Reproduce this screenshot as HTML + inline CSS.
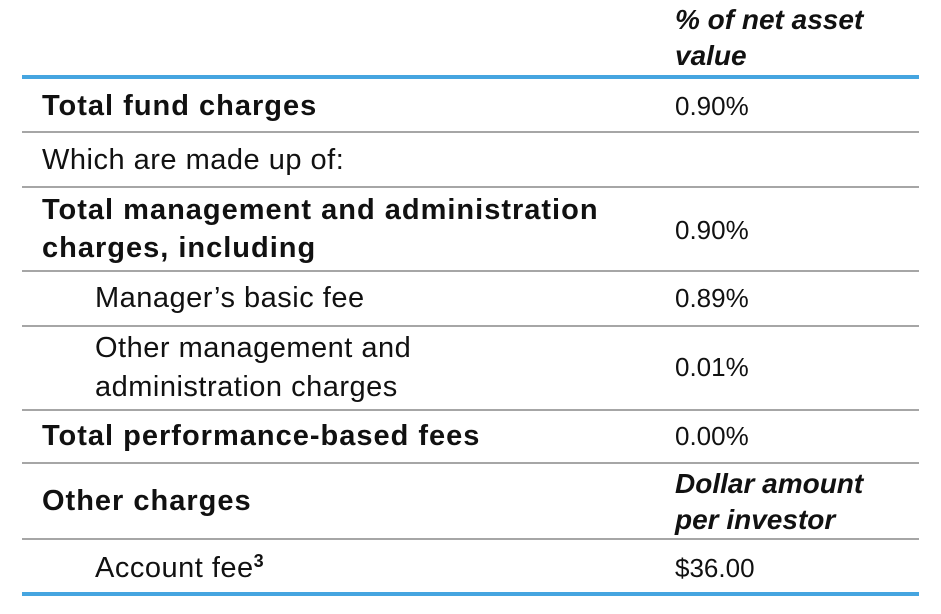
<!DOCTYPE html>
<html><head><meta charset="utf-8"><style>
body{margin:0;width:941px;height:614px;background:#fff;position:relative;overflow:hidden;font-family:"Liberation Sans",sans-serif;color:#111;}
.t{position:absolute;font-size:29px;line-height:38px;white-space:nowrap;letter-spacing:0.5px;}
.b{font-weight:bold;letter-spacing:1px;}
.i{font-style:italic;font-weight:bold;letter-spacing:0;font-size:28px;}
.v{font-size:26px;letter-spacing:0;}
.line{position:absolute;left:22px;width:897px;height:2px;background:#a6a6a6;}
.blue{position:absolute;left:22px;width:897px;height:4px;background:#45a5e0;}
</style></head><body>
<div class="t i" style="left:675px;top:1px">% of net asset</div>
<div class="t i" style="left:675px;top:37px">value</div>
<div class="blue" style="top:75px"></div>

<div class="t b" style="left:42px;top:87px">Total fund charges</div>
<div class="t v" style="left:675px;top:87px">0.90%</div>
<div class="line" style="top:131px"></div>

<div class="t" style="left:42px;top:141px">Which are made up of:</div>
<div class="line" style="top:186px"></div>

<div class="t b" style="left:42px;top:191px">Total management and administration</div>
<div class="t b" style="left:42px;top:229px">charges, including</div>
<div class="t v" style="left:675px;top:211px">0.90%</div>
<div class="line" style="top:270px"></div>

<div class="t" style="left:95px;top:279px">Manager’s basic fee</div>
<div class="t v" style="left:675px;top:279px">0.89%</div>
<div class="line" style="top:325px"></div>

<div class="t" style="left:95px;top:329px">Other management and</div>
<div class="t" style="left:95px;top:368px">administration charges</div>
<div class="t v" style="left:675px;top:348px">0.01%</div>
<div class="line" style="top:409px"></div>

<div class="t b" style="left:42px;top:417px">Total performance-based fees</div>
<div class="t v" style="left:675px;top:417px">0.00%</div>
<div class="line" style="top:462px"></div>

<div class="t b" style="left:42px;top:482px">Other charges</div>
<div class="t i" style="left:675px;top:465px">Dollar amount</div>
<div class="t i" style="left:675px;top:501px">per investor</div>
<div class="line" style="top:538px"></div>

<div class="t" style="left:95px;top:549px">Account fee<sup style="font-size:18px;font-weight:bold;line-height:0;vertical-align:10px">3</sup></div>
<div class="t v" style="left:675px;top:549px">$36.00</div>
<div class="blue" style="top:592px"></div>
</body></html>
